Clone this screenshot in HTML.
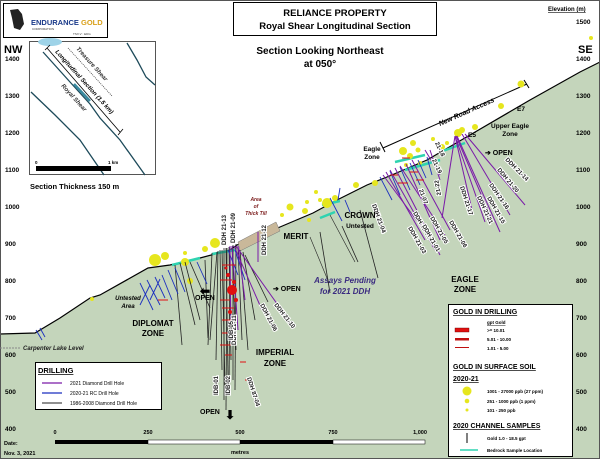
<!DOCTYPE html>
<html><head><meta charset="utf-8"><style>
html,body{margin:0;padding:0;background:#fff}
svg{display:block;font-family:"Liberation Sans",Arial,sans-serif}
.t{font-weight:bold;fill:#000}
.h{paint-order:stroke;stroke:#fff;stroke-width:2px;font-weight:bold;font-size:6px;fill:#222}
</style></head><body>
<svg width="600" height="459" viewBox="0 0 600 459" xmlns="http://www.w3.org/2000/svg">
<rect x="0" y="0" width="600" height="459" fill="#fff"/>
<polygon fill="#c4d5bb" points="0,334 35,333 60,318 90,298 100,295 148,268 170,265 200,258 230,250 237,245 280,227 313,213 337,200 367,185 387,177 427,160 470,135 530,100 580,72 600,62 600,459 0,459"/>
<polyline fill="none" stroke="#000" stroke-width="1.2" points="0,334 35,333 60,318 90,298 100,295 148,268 170,265 200,258 230,250 237,245 280,227 313,213 337,200 367,185 387,177 427,160 470,135 530,100 580,72 600,62"/>
<rect x="0.5" y="0.5" width="599" height="458" fill="none" stroke="#555"/>
<line x1="0" y1="348" x2="20" y2="348" stroke="#888" stroke-dasharray="2,1"/>
<text x="23" y="350" font-size="6" font-style="italic" font-weight="bold" fill="#222">Carpenter Lake Level</text>
<g font-size="6.5" font-weight="bold" fill="#000">
<text x="5" y="61">1400</text><text x="5" y="98">1300</text><text x="5" y="135">1200</text><text x="5" y="172">1100</text>
<text x="5" y="209">1000</text><text x="5" y="246">900</text><text x="5" y="283">800</text><text x="5" y="320">700</text>
<text x="5" y="357">600</text><text x="5" y="394">500</text><text x="5" y="431">400</text>
<text x="576" y="24">1500</text><text x="576" y="61">1400</text><text x="576" y="98">1300</text><text x="576" y="135">1200</text><text x="576" y="172">1100</text>
<text x="576" y="209">1000</text><text x="576" y="246">900</text><text x="576" y="283">800</text><text x="576" y="320">700</text>
<text x="576" y="357">600</text><text x="576" y="394">500</text><text x="576" y="431">400</text>
</g>
<text x="548" y="11" font-size="6" font-weight="bold" text-decoration="underline">Elevation (m)</text>
<text x="4" y="53" font-size="11" class="t">NW</text>
<text x="578" y="53" font-size="11" class="t">SE</text>
<rect x="3.5" y="3.5" width="104" height="34" fill="#fff" stroke="#000"/>
<path d="M10,10 L18,9 L22,14 L24,24 L20,30 L14,28 L12,18 Z" fill="#222"/>
<text x="31" y="25" font-size="7.5" font-weight="bold" fill="#1a3a8a">ENDURANCE <tspan fill="#d9a01a">GOLD</tspan></text>
<text x="32" y="30" font-size="3" fill="#333">CORPORATION</text>
<text x="73" y="35" font-size="3" fill="#333">TSX.V : EDG</text>
<rect x="29.5" y="41.5" width="126" height="133" fill="#fff" stroke="#555"/>
<ellipse cx="50" cy="42" rx="12" ry="4" fill="#9ed3e8"/>
<path d="M43,52 L70,82 L90,104 L100,118 L120,140 L145,175" stroke="#1d4a5a" stroke-width="1.3" fill="none"/>
<path d="M31,92 L55,115 L80,140 L104,175" stroke="#1d4a5a" stroke-width="1.3" fill="none"/>
<path d="M127,43 L137,60 L146,77 L155,85" stroke="#1d4a5a" stroke-width="1.3" fill="none"/>
<path d="M74,84 L90,101" stroke="#3a8aa0" stroke-width="2.5"/>
<path d="M47,48 L120,132 M50,45 L45,50 M123,129 L118,135" stroke="#000" stroke-width="0.8" fill="none"/>
<path d="M68,48 L112,96" stroke="#444" stroke-width="0.8" stroke-dasharray="1,1"/>
<text transform="translate(55,52) rotate(48)" font-size="6" font-weight="bold" font-style="italic">Longitudinal Section (1.5 km)</text>
<text transform="translate(76,49) rotate(48)" font-size="6" font-weight="bold" font-style="italic" fill="#333">Treasure Shear</text>
<text transform="translate(61,86) rotate(48)" font-size="6" font-weight="bold" font-style="italic" fill="#333">Royal Shear</text>
<rect x="36" y="166" width="75" height="5" fill="#000"/>
<text x="35" y="164" font-size="4.5" font-weight="bold">0</text>
<text x="108" y="164" font-size="4.5" font-weight="bold">1 km</text>
<text x="30" y="189" font-size="7.5" font-weight="bold">Section Thickness 150 m</text>
<rect x="233.5" y="2.5" width="203" height="33" fill="#fff" stroke="#000"/>
<text x="335" y="16" text-anchor="middle" font-size="9.5" class="t">RELIANCE PROPERTY</text>
<text x="335" y="29" text-anchor="middle" font-size="9.5" class="t">Royal Shear Longitudinal Section</text>
<text x="320" y="54" text-anchor="middle" font-size="10" font-weight="bold">Section Looking Northeast</text>
<text x="320" y="67" text-anchor="middle" font-size="10" font-weight="bold">at 050°</text>
<polygon points="238,242 276,222 280,231 240,251" fill="#c9b89a" stroke="#777" stroke-width="0.5"/>
<text x="256" y="201" font-size="5" font-style="italic" font-weight="bold" fill="#7a1a1a" text-anchor="middle">Area</text>
<text x="256" y="208" font-size="5" font-style="italic" font-weight="bold" fill="#7a1a1a" text-anchor="middle">of</text>
<text x="256" y="215" font-size="5" font-style="italic" font-weight="bold" fill="#7a1a1a" text-anchor="middle">Thick Till</text>
<line x1="383" y1="148" x2="527" y2="84" stroke="#000" stroke-width="1"/>
<line x1="380" y1="142" x2="385" y2="152" stroke="#000"/><line x1="524" y1="80" x2="529" y2="88" stroke="#000"/>
<text transform="translate(440,126) rotate(-24)" font-size="7" font-weight="bold" font-style="italic">New Road Access</text>
<g stroke="#2ed3b0" stroke-width="2.5" fill="none">
<path d="M172,265 L200,258"/><path d="M212,254 L235,250"/><path d="M320,218 L335,212"/><path d="M322,205 L340,201"/><path d="M405,170 L440,160"/><path d="M395,162 L425,155"/><path d="M440,152 L465,143"/>
</g>
<g fill="#e6e61e">
<circle cx="155" cy="260" r="6"/><circle cx="165" cy="256" r="4"/><circle cx="185" cy="262" r="4"/><circle cx="190" cy="281" r="3"/><circle cx="185" cy="253" r="2"/><circle cx="215" cy="243" r="5"/><circle cx="205" cy="249" r="3"/><circle cx="92" cy="299" r="2"/>
<circle cx="290" cy="207" r="3.5"/><circle cx="282" cy="215" r="2"/><circle cx="305" cy="211" r="3"/><circle cx="309" cy="220" r="2"/><circle cx="320" cy="200" r="2"/><circle cx="327" cy="203" r="5"/><circle cx="335" cy="198" r="3"/><circle cx="316" cy="192" r="2"/><circle cx="307" cy="202" r="2"/>
<circle cx="356" cy="185" r="3"/><circle cx="375" cy="183" r="3"/><circle cx="403" cy="151" r="4"/><circle cx="410" cy="156" r="3"/><circle cx="418" cy="150" r="2.5"/><circle cx="413" cy="143" r="3"/><circle cx="420" cy="163" r="2"/><circle cx="442" cy="147" r="3"/><circle cx="447" cy="143" r="2"/><circle cx="458" cy="133" r="4"/><circle cx="462" cy="130" r="3"/><circle cx="475" cy="127" r="3"/><circle cx="433" cy="139" r="2"/><circle cx="501" cy="106" r="3"/><circle cx="521" cy="84" r="3.5"/><circle cx="591" cy="38" r="2"/><circle cx="406" cy="165" r="2"/>
</g>
<g stroke="#222" stroke-width="0.8">
<line x1="224" y1="248" x2="224" y2="400"/><line x1="227" y1="248" x2="226" y2="410"/><line x1="230" y1="246" x2="229" y2="395"/><line x1="233" y1="245" x2="233" y2="380"/><line x1="236" y1="244" x2="235" y2="390"/><line x1="220" y1="250" x2="222" y2="370"/><line x1="217" y1="252" x2="210" y2="340"/><line x1="240" y1="250" x2="248" y2="350"/><line x1="243" y1="252" x2="255" y2="320"/><line x1="212" y1="253" x2="208" y2="345"/><line x1="175" y1="265" x2="182" y2="345"/><line x1="180" y1="263" x2="195" y2="325"/><line x1="185" y1="262" x2="200" y2="320"/><line x1="190" y1="262" x2="210" y2="308"/><line x1="205" y1="260" x2="208" y2="338"/><line x1="245" y1="255" x2="268" y2="302"/><line x1="320" y1="232" x2="330" y2="293"/><line x1="342" y1="226" x2="358" y2="262"/><line x1="360" y1="210" x2="378" y2="278"/>
<line x1="222" y1="250" x2="225" y2="385"/><line x1="226" y1="248" x2="228" y2="375"/><line x1="229" y1="247" x2="231" y2="360"/><line x1="232" y1="246" x2="236" y2="350"/><line x1="218" y1="251" x2="216" y2="360"/><line x1="238" y1="248" x2="242" y2="340"/>
</g>
<g stroke="#1b2fbf" stroke-width="0.9">
<line x1="140" y1="283" x2="153" y2="310"/><line x1="147" y1="280" x2="160" y2="305"/><line x1="155" y1="277" x2="165" y2="298"/><line x1="162" y1="275" x2="172" y2="300"/><line x1="168" y1="270" x2="178" y2="294"/><line x1="175" y1="268" x2="185" y2="292"/><line x1="197" y1="262" x2="207" y2="284"/><line x1="36" y1="330" x2="42" y2="340"/><line x1="40" y1="328" x2="45" y2="337"/>
<line x1="150" y1="285" x2="140" y2="305"/><line x1="160" y1="279" x2="150" y2="300"/>
<line x1="380" y1="177" x2="392" y2="200"/><line x1="390" y1="171" x2="400" y2="195"/><line x1="400" y1="167" x2="410" y2="190"/><line x1="410" y1="163" x2="420" y2="185"/><line x1="418" y1="160" x2="426" y2="178"/><line x1="427" y1="157" x2="432" y2="175"/><line x1="338" y1="200" x2="340" y2="188"/><line x1="330" y1="198" x2="342" y2="221"/><line x1="350" y1="212" x2="345" y2="200"/>
<line x1="228" y1="250" x2="238" y2="275"/><line x1="235" y1="250" x2="245" y2="280"/>
</g>
<g stroke="#7a1aa8" stroke-width="1">
<line x1="230" y1="246" x2="231" y2="345"/><line x1="232" y1="246" x2="238" y2="330"/><line x1="234" y1="246" x2="262" y2="310"/><line x1="236" y1="246" x2="290" y2="322"/><line x1="238" y1="246" x2="245" y2="300"/><line x1="258" y1="232" x2="258" y2="262"/>
<line x1="383" y1="175" x2="420" y2="225"/><line x1="386" y1="172" x2="425" y2="240"/><line x1="390" y1="170" x2="435" y2="250"/><line x1="395" y1="168" x2="440" y2="255"/><line x1="400" y1="166" x2="445" y2="235"/><line x1="406" y1="164" x2="440" y2="240"/><line x1="412" y1="160" x2="450" y2="230"/><line x1="425" y1="150" x2="440" y2="175"/><line x1="430" y1="150" x2="440" y2="180"/>
<line x1="455" y1="136" x2="442" y2="218"/><line x1="455" y1="136" x2="472" y2="210"/><line x1="455" y1="136" x2="485" y2="222"/><line x1="456" y1="136" x2="493" y2="222"/><line x1="457" y1="136" x2="500" y2="232"/><line x1="462" y1="134" x2="510" y2="215"/><line x1="465" y1="134" x2="525" y2="205"/>
</g>
<g fill="#e01010">
<circle cx="232" cy="290" r="5"/><circle cx="228" cy="275" r="2"/><circle cx="236" cy="300" r="2"/><circle cx="230" cy="312" r="2"/><circle cx="226" cy="268" r="1.5"/><circle cx="234" cy="282" r="2"/>
</g>
<g stroke="#e01010" stroke-width="1">
<line x1="222" y1="265" x2="236" y2="265"/><line x1="220" y1="280" x2="232" y2="280"/><line x1="222" y1="320" x2="234" y2="320"/><line x1="222" y1="333" x2="232" y2="333"/><line x1="220" y1="345" x2="231" y2="345"/><line x1="225" y1="355" x2="232" y2="355"/><line x1="158" y1="300" x2="168" y2="300"/><line x1="390" y1="175" x2="398" y2="175"/><line x1="398" y1="183" x2="408" y2="183"/><line x1="410" y1="172" x2="418" y2="172"/><line x1="416" y1="180" x2="424" y2="180"/><line x1="402" y1="158" x2="410" y2="158"/><line x1="245" y1="380" x2="252" y2="380"/><line x1="240" y1="362" x2="246" y2="362"/><line x1="220" y1="300" x2="230" y2="300"/><line x1="222" y1="308" x2="234" y2="308"/>
</g>
<g class="h">
<text transform="translate(226,245) rotate(-90)">DDH 21-13</text>
<text transform="translate(235,243) rotate(-90)">DDH 21-09</text>
<text transform="translate(266,255) rotate(-90)">DDH 21-12</text>
<text transform="translate(260,305) rotate(62)">DDH 21-06</text>
<text transform="translate(274,305) rotate(52)">DDH 21-10</text>
<text transform="translate(236,345) rotate(-90)">DDH 21-11</text>
<text transform="translate(230,395) rotate(-90)">IDB-02</text>
<text transform="translate(218,395) rotate(-90)">IDB-01</text>
<text transform="translate(247,378) rotate(72)">DDH 87-04</text>
<text transform="translate(233,340) rotate(-90)">IDB-05</text>
<text transform="translate(372,205) rotate(70)">DDH 21-04</text>
<text transform="translate(413,213) rotate(60)">DDH 21-02</text>
<text transform="translate(408,228) rotate(60)">DDH 21-03</text>
<text transform="translate(422,226) rotate(60)">DDH 21-01</text>
<text transform="translate(430,218) rotate(60)">DDH 21-05</text>
<text transform="translate(449,222) rotate(60)">DDH 21-06</text>
<text transform="translate(419,190) rotate(70)">21-07</text>
<text transform="translate(441,195) rotate(-100)">21-22</text>
<text transform="translate(435,143) rotate(65)">21-18</text>
<text transform="translate(432,160) rotate(65)">21-19</text>
<text transform="translate(460,187) rotate(72)">DDH 21-17</text>
<text transform="translate(477,197) rotate(65)">DDH 21-21</text>
<text transform="translate(487,198) rotate(60)">DDH 21-15</text>
<text transform="translate(489,185) rotate(55)">DDH 21-16</text>
<text transform="translate(497,170) rotate(50)">DDH 21-20</text>
<text transform="translate(505,160) rotate(45)">DDH 21-14</text>
</g>
<g font-weight="bold" font-size="8" text-anchor="middle">
<text x="153" y="326">DIPLOMAT</text><text x="153" y="336">ZONE</text>
<text x="275" y="355">IMPERIAL</text><text x="275" y="366">ZONE</text>
<text x="296" y="239">MERIT</text>
<text x="360" y="218">CROWN</text><text x="360" y="228" font-size="6.5">Untested</text>
<text x="465" y="282">EAGLE</text><text x="465" y="292">ZONE</text>
<text x="372" y="151" font-size="6.5">Eagle</text><text x="372" y="159" font-size="6.5">Zone</text>
<text x="510" y="128" font-size="6.5">Upper Eagle</text><text x="510" y="136" font-size="6.5">Zone</text>
<text x="521" y="111" font-size="6.5">E7</text><text x="472" y="137" font-size="6.5">E5</text>
<text x="128" y="300" font-size="6" font-style="italic">Untested</text><text x="128" y="308" font-size="6" font-style="italic">Area</text>
</g>
<text x="345" y="283" font-size="8" font-weight="bold" font-style="italic" fill="#3a2a80" text-anchor="middle">Assays Pending</text>
<text x="345" y="294" font-size="8" font-weight="bold" font-style="italic" fill="#3a2a80" text-anchor="middle">for 2021 DDH</text>
<g stroke="#222" stroke-width="0.6"><line x1="310" y1="237" x2="329" y2="283"/><line x1="330" y1="215" x2="355" y2="262"/></g>
<g font-weight="bold" font-size="7">
<text x="485" y="155">➔ OPEN</text>
<text x="273" y="291">➔ OPEN</text>
<text x="195" y="300">OPEN</text>
<text x="200" y="295" font-size="12">⬅</text>
<text x="200" y="414">OPEN</text>
<text x="225" y="419" font-size="12">⬇</text>
</g>
<rect x="35.5" y="362.5" width="126" height="47" fill="#fff" stroke="#000"/>
<text x="38" y="373" font-size="7.5" font-weight="bold" text-decoration="underline">DRILLING</text>
<line x1="42" y1="383" x2="62" y2="383" stroke="#7a1aa8" stroke-width="1.2"/><text x="70" y="385" font-size="5">2021 Diamond Drill Hole</text>
<line x1="42" y1="393" x2="62" y2="393" stroke="#1b2fbf" stroke-width="1.2"/><text x="70" y="395" font-size="5">2020-21 RC Drill Hole</text>
<line x1="42" y1="403" x2="62" y2="403" stroke="#222" stroke-width="1"/><text x="70" y="405" font-size="5">1986-2008 Diamond Drill Hole</text>
<rect x="55" y="440" width="93" height="4" fill="#000"/><rect x="148" y="440" width="92" height="4" fill="#fff" stroke="#000" stroke-width="0.5"/><rect x="240" y="440" width="93" height="4" fill="#000"/><rect x="333" y="440" width="92" height="4" fill="#fff" stroke="#000" stroke-width="0.5"/>
<g font-size="5.5" font-weight="bold" text-anchor="middle"><text x="55" y="434">0</text><text x="148" y="434">250</text><text x="240" y="434">500</text><text x="333" y="434">750</text><text x="420" y="434">1,000</text><text x="240" y="454">metres</text></g>
<text x="4" y="445" font-size="5.5" font-weight="bold">Date:</text><text x="4" y="455" font-size="5.5" font-weight="bold">Nov. 3, 2021</text>
<rect x="448.5" y="304.5" width="124" height="152" fill="#fff" stroke="#000"/>
<g font-weight="bold">
<text x="453" y="314" font-size="7" text-decoration="underline">GOLD IN DRILLING</text>
<text x="487" y="324" font-size="4.5" text-decoration="underline">gpt Gold</text>
<rect x="455" y="328" width="14" height="4" fill="#e01010" stroke="#600" stroke-width="0.4"/><text x="487" y="332" font-size="4.5">&gt;= 10.01</text>
<rect x="455" y="338" width="14" height="2.5" fill="#c01010"/><text x="487" y="341" font-size="4.5">5.01 - 10.00</text>
<rect x="455" y="347" width="14" height="1" fill="#c01010"/><text x="487" y="350" font-size="4.5">1.01 - 5.00</text>
<text x="453" y="369" font-size="7" text-decoration="underline">GOLD IN SURFACE SOIL</text>
<text x="453" y="381" font-size="7" text-decoration="underline">2020-21</text>
<circle cx="467" cy="391" r="4.5" fill="#e6e61e"/><text x="487" y="393" font-size="4.5">1001 - 27000 ppb (27 ppm)</text>
<circle cx="467" cy="401" r="2.3" fill="#e6e61e"/><text x="487" y="403" font-size="4.5">251 - 1000 ppb (1 ppm)</text>
<circle cx="467" cy="410" r="1.5" fill="#e6e61e"/><text x="487" y="412" font-size="4.5">101 - 250 ppb</text>
<text x="453" y="428" font-size="7" text-decoration="underline">2020 CHANNEL SAMPLES</text>
<line x1="467" y1="433" x2="467" y2="443" stroke="#000" stroke-width="1"/><text x="487" y="440" font-size="4.5">Gold 1.0 - 18.5 gpt</text>
<line x1="460" y1="450" x2="478" y2="450" stroke="#2ed3b0" stroke-width="1.5"/><text x="487" y="452" font-size="4.5">Bedrock Sample Location</text>
</g>
</svg>
</body></html>
